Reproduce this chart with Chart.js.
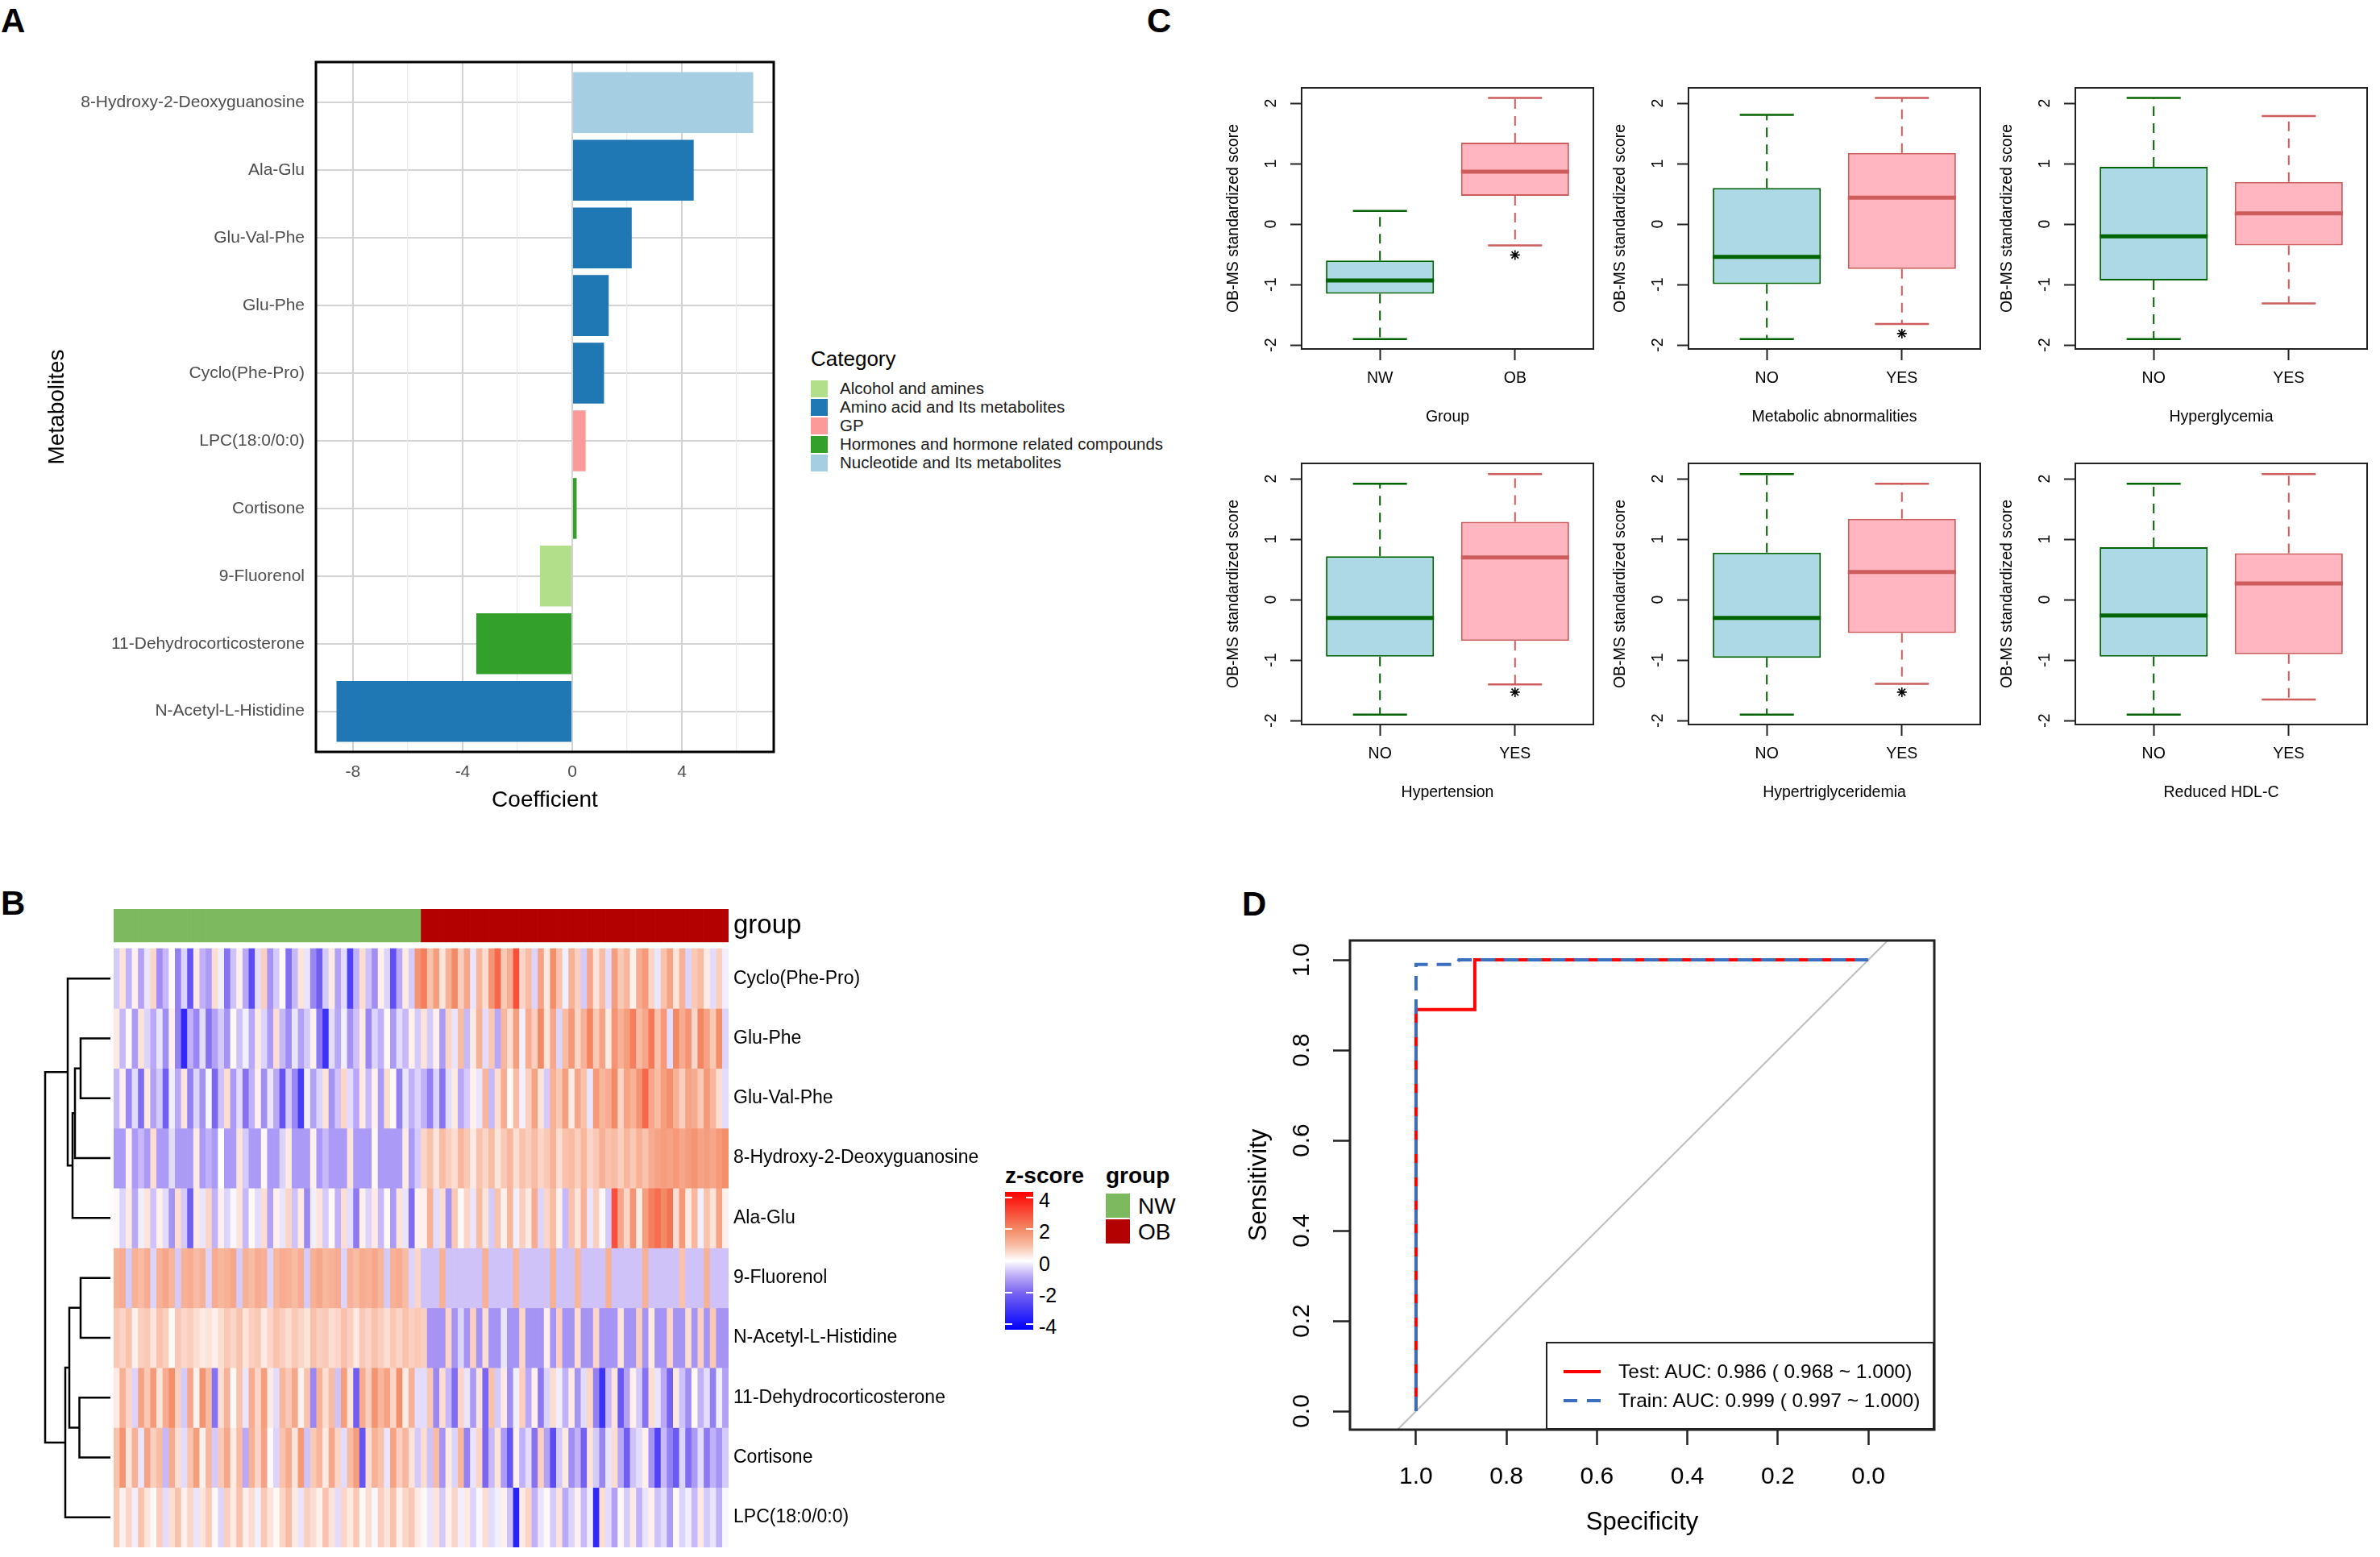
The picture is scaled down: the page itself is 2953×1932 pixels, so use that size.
<!DOCTYPE html>
<html>
<head>
<meta charset="utf-8">
<script src="https://cdn.jsdelivr.net/npm/chart.js@4.4.1/dist/chart.umd.min.js"></script>
<style>
html,body{margin:0;padding:0;background:#fff;}
body{width:2953px;height:1932px;position:relative;overflow:hidden;font-family:"Liberation Sans",Arial,sans-serif;}
canvas{position:absolute;}
.t{position:absolute;white-space:nowrap;line-height:1;transform:translateY(-50%);color:#000;}
.box{position:absolute;}
</style>
</head>
<body>
<script>
// ---------- data: panel A (coefficients) ----------
const metabolites = ['8-Hydroxy-2-Deoxyguanosine','Ala-Glu','Glu-Val-Phe','Glu-Phe','Cyclo(Phe-Pro)',
  'LPC(18:0/0:0)','Cortisone','9-Fluorenol','11-Dehydrocorticosterone','N-Acetyl-L-Histidine'];
const coefficients = [6.6, 4.43, 2.17, 1.33, 1.16, 0.49, 0.16, -1.18, -3.5, -8.6];
const categories = ['Alcohol and amines','Amino acid and Its metabolites','GP',
  'Hormones and hormone related compounds','Nucleotide and Its metabolites'];
const metaboliteCategory = [4, 1, 1, 1, 1, 2, 3, 0, 3, 1];
const coefTicks = [-8, -6, -4, -2, 0, 2, 4, 6];

// ---------- data: panel C (box plots) ----------
const boxPanels = ['Group','Metabolic abnormalities','Hyperglycemia','Hypertension','Hypertriglyceridemia','Reduced HDL-C'];
const boxGroups = [['NW','OB'],['NO','YES'],['NO','YES'],['NO','YES'],['NO','YES'],['NO','YES']];
const whiskerLow  = [[-1.90,-0.35],[-1.90,-1.65],[-1.90,-1.31],[-1.90,-1.40],[-1.90,-1.39],[-1.90,-1.65]];
const quartile1   = [[-1.15, 0.47],[-0.99,-0.74],[-0.93,-0.35],[-0.94,-0.68],[-0.96,-0.55],[-0.94,-0.90]];
const medians     = [[-0.93, 0.87],[-0.54, 0.44],[-0.20, 0.18],[-0.30, 0.70],[-0.30, 0.46],[-0.26, 0.27]];
const quartile3   = [[-0.60, 1.35],[ 0.60, 1.18],[ 0.95, 0.70],[ 0.72, 1.29],[ 0.78, 1.34],[ 0.87, 0.77]];
const whiskerHigh = [[ 0.22, 2.09],[ 1.81, 2.09],[ 2.09, 1.79],[ 1.92, 2.08],[ 2.08, 1.92],[ 1.92, 2.08]];
const starMarks   = [[null,-0.51],[null,-1.81],[null,null],[null,-1.53],[null,-1.53],[null,null]];
const scoreTicks = [-2, -1, 0, 1, 2];

// ---------- data: panel B (heatmap) ----------
const heatRows = ['Cyclo(Phe-Pro)','Glu-Phe','Glu-Val-Phe','8-Hydroxy-2-Deoxyguanosine','Ala-Glu',
  '9-Fluorenol','N-Acetyl-L-Histidine','11-Dehydrocorticosterone','Cortisone','LPC(18:0/0:0)'];
const groupNames = ['NW','OB'];
const groupCounts = [50, 50];
const zCyclo = [
 -0.6, 0.4,-0.9, 0.2,-1.1,-0.3, 0.6,-1.4,-0.8, 0.1,
 -1.6,-0.5,-2.4, 0.3,-0.9,-1.2, 0.5,-0.2,-1.8,-0.7,
  0.2,-1.0,-2.6,-0.4, 0.7,-1.3,-0.6, 0.1,-1.9,-0.8,
  0.4,-0.3,-1.5,-2.2,-0.6, 0.3,-1.1,-0.4,-2.8,-0.9,
  0.5,-0.7,-1.4, 0.2,-0.5,-2.5,-1.0, 0.3,-0.6, 1.8,
  2.2, 0.9, 1.6, 0.4, 1.2, 2.0, 0.7, 1.4,-0.3, 1.1,
  0.5, 1.8, 2.6, 0.8, 1.3, 3.0, 0.6, 1.0,-0.5, 1.5,
  0.3, 1.9, 0.9,-0.2, 1.2, 0.7,-0.6, 1.4, 0.4, 1.0,
 -0.4, 1.6, 0.8, 1.1, 0.2, 1.3, 1.7, 0.6,-0.3, 0.9,
  1.5, 0.4, 1.2,-0.5, 0.8, 1.0, 0.3,-0.4, 0.7,-0.2];
const zGluPhe = [
  0.3,-0.8, 0.1,-1.2, 0.4,-0.5,-1.0,-0.3,-1.4, 0.2,
 -1.6,-3.4,-0.9,-1.5,-0.4,-1.8,-1.1,-0.6,-1.3, 0.1,
 -0.7,-0.2,-1.0, 0.3,-0.5,-1.2, 0.5,-0.8,-1.4,-0.3,
 -1.1,-0.6, 0.2,-1.7,-3.2,-0.4,-1.0,-0.2,-1.3,-0.7,
  0.3,-1.5,-0.5,-0.9, 0.1,-1.2,-0.4,-0.8, 0.2,-0.6,
  0.4,-0.6, 0.2,-1.2, 0.6,-0.3, 1.0,-0.8, 0.3, 1.2,
 -0.4, 0.8,-1.0, 1.1, 0.5, 1.6,-0.2, 1.3, 0.7, 2.0,
  0.4, 1.4,-0.5, 1.0, 1.7, 0.6, 1.2, 2.1, 0.8, 1.5,
  0.3, 1.8, 1.2, 1.6, 2.2, 1.0, 1.4, 2.3, 0.9, 1.7,
 -0.4, 2.0, 1.3, 1.8, 0.6, 2.1, 1.5, 0.8, 1.9,-0.5];
const zGluValPhe = [
 -0.8, 0.2,-1.5,-0.4,-1.9, 0.3,-1.1,-0.6,-2.2,-0.2,
 -1.0, 0.4,-1.6,-0.5,-1.3,-0.1,-2.0,-0.7, 0.5,-1.2,
 -0.4,-1.8,-0.9, 0.2,-1.4,-0.3,-1.0,-2.4,-0.6,-1.5,
 -3.0,-0.2,-1.1,-0.5, 0.4,-1.3,-0.7, 0.6,-0.4,-1.0,
  0.3,-0.8, 0.2,-1.2, 0.5, 0.1,-1.6,-0.3,-0.9,-0.5,
 -0.9,-1.6,-0.5,-1.8,-0.4, 0.3,-1.0,-0.6, 0.2,-0.3,
  1.1,-0.8, 0.5, 1.3, 0.1, 1.0,-0.2, 0.7, 1.5, 0.4,
 -0.6, 1.2, 0.8, 1.6, 0.3, 1.4, 0.9,-0.3, 1.7, 1.1,
  1.3, 2.0, 0.6, 1.5, 1.2, 1.8, 2.6, 1.4, 1.0, 1.6,
  1.9, 1.2, 0.7, 1.5, 1.3, 0.8, 1.7, 1.1, 0.5,-0.4];
const zOHdG = [
 -1.2,-1.2, 0.2,-1.2,-0.8,-1.2, 0.5,-1.2,-1.2,-0.4,
 -1.2,-1.2,-1.2, 0.3,-1.2,-0.9,-1.2, 0.0,-1.2,-1.2,
  0.4,-0.6,-1.2,-1.2, 0.1,-1.2,-1.2,-0.5, 0.3,-1.2,
 -1.2,-1.2, 0.2,-1.2,-0.8,-1.2,-1.2,-1.2, 0.4,-1.2,
 -1.2,-1.2, 0.1,-1.2,-1.2,-1.2,-1.2, 0.3,-1.2,-0.6,
  0.6, 0.9, 0.4, 1.0, 0.7, 0.5, 1.1, 0.8, 0.3, 0.9,
  0.6, 1.0, 0.4, 0.8, 1.1, 0.5, 0.9, 0.7, 1.0, 0.6,
  0.8, 1.2, 0.5, 0.9, 1.0, 0.7, 1.1, 0.6, 0.8, 1.2,
  0.9, 1.0, 0.7, 1.1, 0.8, 1.2, 0.9, 1.3, 1.5, 1.6,
  1.5, 1.7, 1.4, 1.6, 1.8, 1.5, 1.6, 1.4, 1.7, 1.9];
const zAlaGlu = [
  0.1,-0.5, 0.3,-1.0,-0.2, 0.4,-0.7, 0.2,-0.4,-1.3,
  0.5,-0.6,-2.2, 0.3,-0.3, 0.6,-0.9, 0.2,-0.5,-0.1,
  0.4,-0.8, 0.1,-0.4, 0.5,-1.1, 0.2,-0.3, 0.6,-0.7,
  0.3,-1.5,-0.2, 0.4,-0.6, 0.1,-0.9, 0.5,-0.4,-1.7,
  0.2,-0.5, 0.3,-0.8, 0.1,-1.2, 0.4,-0.3,-1.9, 0.2,
  0.2, 1.2,-0.4, 0.5,-1.3, 0.8, 0.1, 0.6,-0.3, 1.0,
  0.4,-0.6, 0.9, 0.2, 1.1,-0.2, 0.7, 0.3, 1.3,-0.5,
  0.6, 1.0, 0.2,-0.8, 0.9, 0.4, 1.2,-0.3, 0.7, 0.1,
 -0.6, 3.0, 1.4, 0.6, 1.8, 0.3, 1.6, 2.2, 2.5, 2.0,
  2.4, 0.5, 1.7, 0.3, 1.1,-0.2, 0.9, 0.4, 1.5, 0.2];
const zFluorenol = [
  1.2, 1.3,-0.6, 1.2, 1.0, 1.3,-0.5, 1.2, 1.4, 1.1,
 -0.6, 1.2, 1.3, 1.0, 1.2,-0.5, 1.3, 1.1, 1.2, 1.4,
 -0.6, 1.2, 1.0, 1.3, 1.2,-0.5, 1.1, 1.3, 1.2, 1.0,
  1.3,-0.6, 1.2, 1.4, 1.1, 1.2, 1.3,-0.5, 1.2, 1.0,
  1.3, 1.2, 1.4, 1.1,-0.6, 1.2, 1.3, 1.0,-0.5, 0.6,
 -0.7,-0.7,-0.7, 1.2,-0.7,-0.7,-0.7,-0.7,-0.7,-0.7,
  1.2,-0.7,-0.7,-0.7,-0.7, 1.1,-0.7,-0.7,-0.7,-0.7,
 -0.7, 1.2,-0.7,-0.7,-0.7, 1.1,-0.7,-0.7,-0.7,-0.7,
  1.2,-0.7,-0.7,-0.7,-0.7,-0.7, 1.2,-0.7,-0.7,-0.7,
 -0.7,-0.7, 0.9,-0.7,-0.7,-0.7, 1.2,-0.7,-0.7,-0.7];
const zAcetylHis = [
  0.8, 0.6, 0.9, 0.2, 0.7, 0.8, 0.4, 0.9, 0.7, 0.1,
  0.8, 0.6, 0.7, 0.5, 0.3, 0.4, 0.2, 0.5, 0.8, 0.6,
  0.9, 0.4, 0.7, 0.8, 0.3, 0.6, 0.9, 0.7, 0.5, 0.8,
  0.6, 0.4, 0.9, 0.7, 0.8, 0.5, 0.6, 0.9, 0.7, 0.3,
  0.8, 0.6, 0.9, 0.7, 0.5, 0.8, 0.6, 0.9, 0.7, 0.8,
  0.7,-1.3,-1.3,-1.3, 0.6,-1.3,-0.5,-1.3, 0.7,-1.3,
  0.5,-1.3,-1.3,-0.3,-1.3,-1.3, 0.6,-1.3,-1.3,-1.3,
  0.2,-1.3, 0.7,-1.3,-1.3, 0.5,-1.3,-1.3, 0.6,-1.3,
 -1.3,-1.3, 0.4,-1.3,-1.3, 0.7,-1.3, 0.3,-1.3,-1.3,
  0.6,-1.3,-1.3, 0.5,-1.3, 0.7,-1.3, 0.8,-1.3,-1.3];
const zDehydro = [
  0.3, 1.2, 0.6,-0.5, 1.5, 0.8, 1.7, 0.4, 1.3, 1.9,
  0.7,-0.6, 1.4, 0.2, 1.8, 1.0,-1.8, 0.5, 1.2, 0.1,
  0.9,-0.3, 1.3, 0.6, 1.6, 0.3,-0.4, 1.1, 0.8, 1.4,
  0.2, 0.9,-1.5, 1.2, 0.5, 1.0,-0.7, 1.6, 0.4,-2.2,
  1.3, 0.7, 1.8, 1.1, 1.5, 0.6, 1.9, 0.3, 1.2,-0.4,
 -0.4, 0.8,-1.5, 0.5,-0.8,-1.9, 0.6,-0.3,-1.2, 0.4,
 -2.0, 0.9,-0.6, 0.3,-1.4,-0.2, 0.7,-1.0, 0.2,-1.7,
 -0.5, 0.5,-0.2,-0.9, 0.3,-1.3,-0.4, 0.6,-1.6,-3.2,
 -0.8, 0.4,-2.3,-1.1, 0.2,-0.6,-1.8, 0.5,-0.3,-1.0,
 -2.1, 0.3,-0.7,-1.4, 0.1,-0.9,-0.4,-1.6,-0.2,-1.1];
const zCortisone = [
  0.9, 1.8, 0.4, 1.2,-0.3, 1.5, 0.7, 1.0,-0.8, 1.3,
  0.5,-0.4, 0.9, 1.6, 0.2, 1.1,-0.6, 0.8, 1.4, 0.3,
  1.0,-1.0, 1.2, 0.6, 1.5, 0.1,-0.5, 0.9, 1.3, 0.4,
  1.7,-0.7, 0.8, 1.1, 0.3, 1.4, 0.6,-0.4, 1.0, 1.6,
 -2.4, 0.5, 1.2, 0.9,-0.3, 1.5, 0.7, 1.1, 0.4,-0.6,
  0.5,-0.7, 1.0,-1.3, 0.3,-0.5, 1.1,-1.6,-0.3, 0.6,
 -2.0,-0.8, 0.4,-1.2,-2.4, 0.2,-0.9,-0.4,-1.8, 0.7,
 -1.1,-2.6,-0.6, 0.3,-1.4,-0.9,-2.1, 0.4,-0.6,-1.5,
 -0.3, 0.5,-1.0,-2.2,-0.7,-0.4, 0.2,-1.3,-2.8,-0.8,
 -1.6,-2.3,-0.5,-1.9,-1.2,-0.4,-1.7,-0.9,-1.3,-0.6];
const zLPC = [
  0.8, 0.2, 0.6,-0.2, 0.9, 0.4, 0.1, 0.7,-0.4, 0.5,
  0.9, 0.2, 0.6,-0.3, 0.4, 0.8, 0.1,-0.5, 0.7, 0.3,
  0.9, 0.2, 0.5,-0.2, 0.8, 0.4, 0.1, 0.6, 1.0, 0.3,
 -0.3, 0.7, 0.5, 0.2, 0.9, 0.4,-0.4, 0.6, 0.3, 0.8,
  0.1, 0.5,-0.1, 0.7, 0.4, 0.9, 0.2, 0.6, 0.8, 0.3,
  0.1,-0.3, 0.4,-0.6, 0.2, 0.6,-0.2, 0.3,-0.5,-0.1,
  0.5,-0.4,-0.2, 0.2,-0.7,-3.6, 0.3, 0.6,-0.9,-0.3,
  0.1,-0.6, 0.4,-1.0,-0.5, 0.2,-0.8,-0.2,-3.4, 0.5,
 -0.4,-1.1, 0.1,-0.6, 0.3,-0.9,-0.3, 0.2,-0.7,-0.4,
 -1.2, 0.1,-0.5,-0.2,-0.8, 0.3,-0.6,-0.3,-0.9,-0.1];
const zRows = [zCyclo, zGluPhe, zGluValPhe, zOHdG, zAlaGlu, zFluorenol, zAcetylHis, zDehydro, zCortisone, zLPC];
// row clustering: [childA, childB, height]; leaves 0..9, merges numbered from 10
const dendroMerges = [[1,2,37],[10,3,44],[11,4,47],[0,12,53],[5,6,37],[7,8,38.5],[14,15,51],[16,9,56],[13,17,81]];
const zLegendTicks = [4, 2, 0, -2, -4];

// ---------- data: panel D (ROC) ----------
const rocSpecTest  = [1, 1, 0.87, 0.87, 0];
const rocSensTest  = [0, 0.89, 0.89, 1, 1];
const rocSpecTrain = [1, 1, 0.91, 0.905, 0];
const rocSensTrain = [0, 0.99, 0.99, 1, 1];
const rocTicks = [0, 0.2, 0.4, 0.6, 0.8, 1];
const rocLegend = ['Test: AUC: 0.986 ( 0.968 ~ 1.000)', 'Train: AUC: 0.999 ( 0.997 ~ 1.000)'];

// ---------- styles ----------
const categoryColors = ['#B2DF8A','#1F78B4','#FB9A99','#33A02C','#A6CEE3'];
const boxFill = ['#ADD8E6','#FFB6C1'];
const boxLine = ['#006400','#CD5C5C'];
const groupColors = ['#7DB95E','#B30000'];
const zStops = [[-4.36,[0,0,255]],[-2,[122,102,240]],[-1,[185,168,247]],[0,[255,255,255]],
                [1,[248,187,163]],[2,[243,138,102]],[4.36,[255,0,0]]];
const testColor = '#FF0000', trainColor = '#3A6FBF';

Chart.defaults.font.family = '"Liberation Sans", Arial, Helvetica, sans-serif';
Chart.defaults.color = '#000';
Chart.defaults.animation = false;
Chart.defaults.events = [];
Chart.defaults.plugins.legend.display = false;
Chart.defaults.plugins.tooltip.enabled = false;

// box around the plotting region
Chart.register({
  id: 'frame',
  afterDraw(chart, args, opts) {
    if (!opts.width) return;
    const {ctx, chartArea: a} = chart;
    ctx.save();
    ctx.strokeStyle = opts.color || '#000';
    ctx.lineWidth = opts.width;
    ctx.strokeRect(a.left, a.top, a.right - a.left, a.bottom - a.top);
    ctx.restore();
  }
});

const fix = px => s => { if (s.isHorizontal()) s.height = px; else s.width = px; };
const setTicks = vals => s => { s.ticks = vals.map(v => ({value: v})); };

function makeCanvas(left, top, w, h) {
  const c = document.createElement('canvas');
  c.width = w; c.height = h;
  c.style.left = left + 'px'; c.style.top = top + 'px';
  c.style.width = w + 'px'; c.style.height = h + 'px';
  document.body.appendChild(c);
  return c;
}
function addText(text, left, cy, size, extra) {
  const d = document.createElement('div');
  d.className = 't';
  d.textContent = text;
  d.style.left = left + 'px'; d.style.top = cy + 'px'; d.style.fontSize = size + 'px';
  if (extra) Object.assign(d.style, extra);
  document.body.appendChild(d);
  return d;
}
function addBox(left, top, w, h, style) {
  const d = document.createElement('div');
  d.className = 'box';
  Object.assign(d.style, {left: left + 'px', top: top + 'px', width: w + 'px', height: h + 'px'}, style);
  document.body.appendChild(d);
  return d;
}
function zColor(v) {
  for (let i = 1; i < zStops.length; i++) {
    const [v1, c1] = zStops[i];
    if (v <= v1 || i === zStops.length - 1) {
      const [v0, c0] = zStops[i - 1];
      const t = Math.max(0, Math.min(1, (v - v0) / (v1 - v0)));
      return 'rgb(' + c0.map((c, j) => Math.round(c + (c1[j] - c) * t)).join(',') + ')';
    }
  }
}

// panel letters
[['A', 1, 26], ['C', 1423, 26], ['B', 1, 1121], ['D', 1541, 1122]].forEach(([l, x, y]) =>
  addText(l, x, y, 42, {fontWeight: 'bold'}));

// ================= Panel A =================
new Chart(makeCanvas(0, 0, 975, 1020), {
  type: 'bar',
  data: {
    datasets: [{
      data: metabolites.map((m, i) => ({x: coefficients[i], y: i + 1})),
      backgroundColor: metaboliteCategory.map(c => categoryColors[c]),
      barPercentage: 0.9, categoryPercentage: 1, borderWidth: 0
    }]
  },
  options: {
    indexAxis: 'y', responsive: false,
    layout: {padding: {top: 77, right: 15}},
    plugins: {frame: {width: 3}},
    scales: {
      y: {
        type: 'linear', min: 0.4, max: 10.6, reverse: true, offset: false,
        afterFit: fix(392), afterBuildTicks: setTicks(metabolites.map((m, i) => i + 1)),
        ticks: {callback: v => metabolites[v - 1], color: '#4D4D4D', font: {size: 21}, padding: 14, autoSkip: false},
        grid: {offset: false, color: '#D3D3D3', lineWidth: 2, drawTicks: false},
        border: {display: false},
        title: {display: true, text: 'Metabolites', font: {size: 28}, padding: {top: 54, bottom: 0}}
      },
      x: {
        type: 'linear', min: -9.35, max: 7.35,
        afterFit: fix(87), afterBuildTicks: setTicks(coefTicks),
        ticks: {callback: v => (v % 4 === 0 ? String(v) : ''), color: '#4D4D4D', font: {size: 21}, padding: 13, autoSkip: false, maxRotation: 0},
        grid: {
          color: c => (c.tick && c.tick.value % 4 === 0 ? '#D3D3D3' : '#EAEAEA'),
          lineWidth: c => (c.tick && c.tick.value % 4 === 0 ? 2 : 1.2),
          drawTicks: false
        },
        border: {display: false},
        title: {display: true, text: 'Coefficient', font: {size: 28}, padding: {top: 0, bottom: 10}}
      }
    }
  }
});
addText('Category', 1006, 445, 26);
categories.forEach((c, i) => {
  const cy = 482 + i * 23;
  addBox(1006, cy - 10.5, 21, 21, {background: categoryColors[i]});
  addText(c, 1042, cy, 20.5, {color: '#1A1A1A'});
});

// ================= Panel C =================
const boxFrameLeft = [1615, 2095, 2575], boxFrameTop = [109, 575];
const FW = 362, FH = 324, padTop = 40;
boxPanels.forEach((title, k) => {
  const fl = boxFrameLeft[k % 3], ft = boxFrameTop[Math.floor(k / 3)];
  const datasets = [{
    type: 'bar',
    data: [0, 1].map(g => ({x: g + 1, y: [quartile1[k][g], quartile3[k][g]]})),
    backgroundColor: boxFill, borderColor: boxLine, borderWidth: 2, borderSkipped: false,
    barPercentage: 0.8, categoryPercentage: 1, grouped: false, order: 3
  }];
  [0, 1].forEach(g => {
    const x = g + 1;
    datasets.push({
      type: 'line', order: 2, pointRadius: 0, borderColor: boxLine[g], borderWidth: 2, borderDash: [12, 9],
      data: [{x, y: quartile3[k][g]}, {x, y: whiskerHigh[k][g]}, {x, y: null}, {x, y: quartile1[k][g]}, {x, y: whiskerLow[k][g]}]
    });
    datasets.push({
      type: 'line', order: 2, pointRadius: 0, borderColor: boxLine[g], borderWidth: 2.5,
      data: [{x: x - 0.2, y: whiskerHigh[k][g]}, {x: x + 0.2, y: whiskerHigh[k][g]}, {x, y: null},
             {x: x - 0.2, y: whiskerLow[k][g]}, {x: x + 0.2, y: whiskerLow[k][g]}]
    });
    datasets.push({
      type: 'line', order: 1, pointRadius: 0, borderColor: boxLine[g], borderWidth: 5,
      data: [{x: x - 0.4, y: medians[k][g]}, {x: x + 0.4, y: medians[k][g]}]
    });
    if (starMarks[k][g] !== null) {
      datasets.push({
        type: 'scatter', order: 0, pointStyle: 'star', pointRadius: 6, borderColor: '#000', borderWidth: 1.6,
        data: [{x, y: starMarks[k][g]}]
      });
    }
  });
  new Chart(makeCanvas(fl - 100, ft - padTop, FW + 112, FH + padTop + 100), {
    type: 'bar',
    data: {datasets},
    options: {
      responsive: false,
      layout: {padding: {top: padTop, right: 12}},
      plugins: {frame: {width: 2, color: '#222'}},
      scales: {
        x: {
          type: 'linear', min: 0.42, max: 2.58, offset: false,
          afterFit: fix(100), afterBuildTicks: setTicks([1, 2]),
          ticks: {callback: v => boxGroups[k][v - 1], font: {size: 19.5}, padding: 10.7, maxRotation: 0},
          grid: {offset: false, drawOnChartArea: false, tickLength: 14, tickWidth: 2, tickColor: '#222'},
          border: {display: false},
          title: {display: true, text: title, font: {size: 19.5}, padding: {top: 0, bottom: 4}}
        },
        y: {
          type: 'linear', min: -2.065, max: 2.255,
          afterFit: fix(100), afterBuildTicks: setTicks(scoreTicks),
          ticks: {minRotation: 90, maxRotation: 90, crossAlign: 'center', padding: 15, font: {size: 19.5}},
          grid: {drawOnChartArea: false, tickLength: 14, tickWidth: 2, tickColor: '#222'},
          border: {display: false},
          title: {display: true, text: 'OB-MS standardized score', font: {size: 19.5}, padding: {top: 4, bottom: 0}}
        }
      }
    }
  });
});

// ================= Panel B =================
const hmTop = 1128, hmHeight = 792, hmPad = 40;
const sampleGroups = [];
groupCounts.forEach((n, g) => { for (let i = 0; i < n; i++) sampleGroups.push(g); });
const nCols = sampleGroups.length;
const hmDatasets = zRows.map((vals, r) => ({
  data: vals.map((v, i) => ({x: i + 0.5, y: [r, r + 1]})),
  backgroundColor: vals.map(zColor),
  barPercentage: 1, categoryPercentage: 1, grouped: false, borderWidth: 0
}));
hmDatasets.push({
  data: sampleGroups.map((g, i) => ({x: i + 0.5, y: [-0.66, -0.11]})),
  backgroundColor: sampleGroups.map(g => groupColors[g]),
  barPercentage: 1, categoryPercentage: 1, grouped: false, borderWidth: 0
});
new Chart(makeCanvas(141, hmTop - hmPad, 1093, hmHeight + 2 * hmPad), {
  type: 'bar',
  data: {datasets: hmDatasets},
  options: {
    responsive: false,
    layout: {padding: {top: hmPad, bottom: hmPad}},
    scales: {
      x: {type: 'linear', min: 0, max: nCols, display: false, offset: false, grid: {offset: false}},
      y: {
        type: 'linear', position: 'right', min: -0.66, max: 10, reverse: true,
        afterFit: fix(330), afterBuildTicks: setTicks([-0.385].concat(heatRows.map((n, i) => i + 0.5))),
        ticks: {
          callback: v => (v < 0 ? 'group' : heatRows[Math.round(v - 0.5)]),
          font: c => ({size: c.tick && c.tick.value < 0 ? 33 : 23}),
          padding: 6, autoSkip: false
        },
        grid: {display: false, drawTicks: false}, border: {display: false}
      }
    }
  }
});
// row dendrogram
const nodeY = heatRows.map((n, i) => i + 0.5), nodeH = heatRows.map(() => 0);
const dendroSets = dendroMerges.map(([a, b, h]) => {
  nodeY.push((nodeY[a] + nodeY[b]) / 2); nodeH.push(h);
  return {
    data: [{x: nodeH[a], y: nodeY[a]}, {x: h, y: nodeY[a]}, {x: h, y: nodeY[b]}, {x: nodeH[b], y: nodeY[b]}],
    showLine: true, pointRadius: 0, borderColor: '#000', borderWidth: 2.5
  };
});
new Chart(makeCanvas(40, hmTop - hmPad, 97, hmHeight + 2 * hmPad), {
  type: 'scatter',
  data: {datasets: dendroSets},
  options: {
    responsive: false,
    layout: {padding: {top: hmPad, bottom: hmPad}},
    scales: {
      x: {type: 'linear', min: 0, max: 97, reverse: true, display: false},
      y: {type: 'linear', min: -0.66, max: 10, reverse: true, display: false}
    }
  }
});
// heatmap legends
const zMin = zStops[0][0], zMax = zStops[zStops.length - 1][0];
const cbLeft = 1247, cbTop = 1479, cbW = 35, cbH = 171;
addBox(cbLeft, cbTop, cbW, cbH, {
  background: 'linear-gradient(to top,' + zStops.map(([v, c]) =>
    'rgb(' + c.join(',') + ') ' + ((v - zMin) / (zMax - zMin) * 100).toFixed(2) + '%').join(',') + ')'
});
zLegendTicks.forEach(t => {
  const y = cbTop + (zMax - t) / (zMax - zMin) * cbH;
  addBox(cbLeft, y - 1, 9, 2, {background: '#fff'});
  addBox(cbLeft + cbW - 9, y - 1, 9, 2, {background: '#fff'});
  addText(String(t), cbLeft + 42, y + 3, 25);
});
addText('z-score', 1247, 1459, 28, {fontWeight: 'bold'});
addText('group', 1372, 1459, 28, {fontWeight: 'bold'});
groupNames.forEach((g, i) => {
  addBox(1372, 1481 + i * 32, 30, 30, {background: groupColors[i]});
  addText(g, 1412, 1497 + i * 32, 28);
});

// ================= Panel D =================
const rocPadTop = 67;
new Chart(makeCanvas(1500, 1167 - rocPadTop, 920, 607 + rocPadTop + 146), {
  type: 'scatter',
  data: {
    datasets: [
      {data: rocSpecTrain.map((s, i) => ({x: s, y: rocSensTrain[i]})), showLine: true, pointRadius: 0,
       borderColor: trainColor, borderWidth: 4, borderDash: [18, 11], order: 1},
      {data: rocSpecTest.map((s, i) => ({x: s, y: rocSensTest[i]})), showLine: true, pointRadius: 0,
       borderColor: testColor, borderWidth: 4, order: 2},
      {data: [{x: 1.2, y: -0.2}, {x: -0.2, y: 1.2}], showLine: true, pointRadius: 0,
       borderColor: '#BDBDBD', borderWidth: 2, order: 3}
    ]
  },
  options: {
    responsive: false,
    layout: {padding: {top: rocPadTop, right: 20}},
    plugins: {frame: {width: 3, color: '#222'}},
    scales: {
      x: {
        type: 'linear', min: -0.146, max: 1.146, reverse: true,
        afterFit: fix(146), afterBuildTicks: setTicks(rocTicks),
        ticks: {callback: v => v.toFixed(1), font: {size: 30}, padding: 22, maxRotation: 0},
        grid: {drawOnChartArea: false, tickLength: 19, tickWidth: 2.5, tickColor: '#222'},
        border: {display: false},
        title: {display: true, text: 'Specificity', font: {size: 31}, padding: {top: 0, bottom: 12}}
      },
      y: {
        type: 'linear', min: -0.041, max: 1.043,
        afterFit: fix(175), afterBuildTicks: setTicks(rocTicks),
        ticks: {callback: v => v.toFixed(1), minRotation: 90, maxRotation: 90, crossAlign: 'center', font: {size: 30}, padding: 17},
        grid: {drawOnChartArea: false, tickLength: 21, tickWidth: 2.5, tickColor: '#222'},
        border: {display: false},
        title: {display: true, text: 'Sensitivity', font: {size: 31}, padding: {top: 44, bottom: 0}}
      }
    }
  }
});
addBox(1918, 1665, 482, 109, {border: '2.5px solid #222', boxSizing: 'border-box'});
addBox(1940, 1700, 46, 4, {background: testColor});
addBox(1940, 1736, 46, 4, {background: 'repeating-linear-gradient(to right,' + trainColor + ' 0 17px, transparent 17px 29px)'});
rocLegend.forEach((t, i) => addText(t, 2008, 1702 + i * 36, 24.5));
</script>
</body>
</html>
